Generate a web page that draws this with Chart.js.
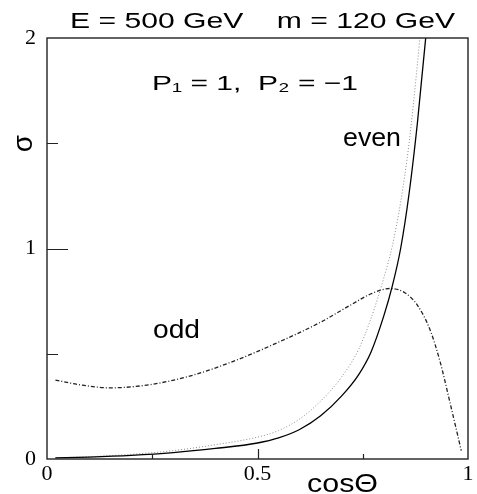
<!DOCTYPE html>
<html>
<head>
<meta charset="utf-8">
<script src="https://cdn.jsdelivr.net/npm/chart.js@4"></script>
<style>
  body { margin: 0; background: #fff; }
  #box { width: 477px; height: 494px; }
</style>
</head>
<body>
<div id="box"><canvas id="chart"></canvas></div>
<script>
// values
const cosEven = [0.02, 0.1, 0.2, 0.3, 0.4, 0.5, 0.55, 0.6, 0.65, 0.7, 0.74, 0.77, 0.8, 0.82, 0.84, 0.86, 0.88, 0.9, 0.91];
const sigmaEven = [0.005, 0.009, 0.017, 0.03, 0.05, 0.076, 0.1, 0.14, 0.205, 0.30, 0.40, 0.51, 0.68, 0.82, 1.0, 1.26, 1.6, 2.01, 2.25];

const cosEvenDot = [0.02, 0.1, 0.2, 0.3, 0.4, 0.5, 0.55, 0.6, 0.65, 0.7, 0.74, 0.77, 0.8, 0.82, 0.84, 0.86, 0.88, 0.89, 0.9];
const sigmaEvenDot = [0.006, 0.011, 0.022, 0.04, 0.068, 0.104, 0.135, 0.19, 0.275, 0.39, 0.52, 0.67, 0.86, 1.01, 1.22, 1.5, 1.88, 2.1, 2.35];

const cosOdd = [0.02, 0.08, 0.15, 0.25, 0.35, 0.45, 0.55, 0.65, 0.72, 0.77, 0.815, 0.85, 0.88, 0.91, 0.934, 0.957, 0.984];
const sigmaOdd = [0.375, 0.352, 0.338, 0.355, 0.40, 0.47, 0.555, 0.65, 0.73, 0.785, 0.81, 0.79, 0.73, 0.613, 0.46, 0.27, 0.04];

const xLabels = ['0', '0.5', '1'];
const yLabels = ['0', '1', '2'];
const xTicks = [0.25, 0.5, 0.75];
const yTicks = [0.5, 1, 1.5];

function pts(xs, ys) {
    return xs.map((x, i) => ({ x: x, y: ys[i] }));
}

// text stretched to the width it has in the picture
function fitText(ctx, text, x1, x2, base, size) {
    ctx.font = size + 'px "Liberation Sans", Arial, sans-serif';
    const w = ctx.measureText(text).width;
    ctx.save();
    ctx.translate(x1, base);
    ctx.scale((x2 - x1) / w, 1);
    ctx.textAlign = 'left';
    ctx.textBaseline = 'alphabetic';
    ctx.fillText(text, 0, 0);
    ctx.restore();
}

const frame = {
    id: 'frame',
    afterDraw(chart) {
        const ctx = chart.ctx;
        const a = chart.chartArea;
        const sx = chart.scales.x, sy = chart.scales.y;
        ctx.save();
        ctx.strokeStyle = '#222';
        ctx.lineWidth = 1.4;
        ctx.strokeRect(a.left, a.top, a.right - a.left, a.bottom - a.top);
        // inward tick marks
        ctx.beginPath();
        xTicks.forEach(v => {
            const px = Math.round(sx.getPixelForValue(v)) + 0.5;
            const len = v === 0.5 ? 10 : 5;
            ctx.moveTo(px, a.bottom);
            ctx.lineTo(px, a.bottom - len);
        });
        yTicks.forEach(v => {
            const py = Math.round(sy.getPixelForValue(v)) + 0.5;
            const len = v === 1 ? 21 : 11;
            ctx.moveTo(a.left, py);
            ctx.lineTo(a.left + len, py);
        });
        ctx.lineWidth = 1.2;
        ctx.stroke();

        ctx.fillStyle = '#000';
        fitText(ctx, 'E = 500 GeV    m = 120 GeV', 70, 455, 28, 22);
        fitText(ctx, 'P\u2081 = 1,  P\u2082 = \u22121', 152, 358, 90, 21);
        fitText(ctx, 'even', 343, 401, 146, 26);
        fitText(ctx, 'odd', 153, 200, 338, 25);
        fitText(ctx, 'cos\u0398', 307, 378, 492, 25);

        // sigma, turned like an axis title
        ctx.save();
        ctx.translate(32, 143.5);
        ctx.rotate(-Math.PI / 2);
        ctx.font = '28px "Liberation Sans", Arial, sans-serif';
        ctx.textAlign = 'center';
        ctx.textBaseline = 'alphabetic';
        ctx.fillText('\u03c3', 0, 0);
        ctx.restore();
        ctx.restore();
    }
};

const tickFont = { family: '"Liberation Serif", "Times New Roman", serif', size: 22 };

new Chart(document.getElementById('chart'), {
    type: 'line',
    data: {
        datasets: [
            {
                label: 'even',
                data: pts(cosEven, sigmaEven),
                borderColor: '#000',
                borderWidth: 1.3,
                pointRadius: 0,
                cubicInterpolationMode: 'monotone'
            },
            {
                label: 'even (dotted)',
                data: pts(cosEvenDot, sigmaEvenDot),
                borderColor: '#8a8a8a',
                borderWidth: 1,
                borderDash: [1, 2],
                pointRadius: 0,
                cubicInterpolationMode: 'monotone'
            },
            {
                label: 'odd',
                data: pts(cosOdd, sigmaOdd),
                borderColor: '#222',
                borderWidth: 1.3,
                borderDash: [4, 2, 1, 2],
                pointRadius: 0,
                cubicInterpolationMode: 'monotone'
            }
        ]
    },
    options: {
        responsive: true,
        maintainAspectRatio: false,
        animation: false,
        layout: { padding: { top: 38, right: 9, left: 0, bottom: 0 }, autoPadding: false },
        plugins: { legend: { display: false }, tooltip: { enabled: false } },
        scales: {
            x: {
                type: 'linear',
                min: 0,
                max: 1,
                grid: { display: false, drawTicks: false },
                border: { display: false },
                afterFit: s => { s.height = 35; },
                afterBuildTicks: s => { s.ticks = xLabels.map(t => ({ value: parseFloat(t) })); },
                ticks: {
                    autoSkip: false,
                    maxRotation: 0,
                    padding: 2,
                    color: '#000',
                    font: tickFont,
                    callback: v => xLabels.find(t => parseFloat(t) === v)
                }
            },
            y: {
                min: 0,
                max: 2,
                grid: { display: false, drawTicks: false },
                border: { display: false },
                afterFit: s => { s.width = 47; },
                afterBuildTicks: s => { s.ticks = yLabels.map(t => ({ value: parseFloat(t) })); },
                ticks: {
                    padding: 11,
                    color: '#000',
                    font: tickFont,
                    callback: v => yLabels.find(t => parseFloat(t) === v)
                }
            }
        }
    },
    plugins: [frame]
});
</script>
</body>
</html>
